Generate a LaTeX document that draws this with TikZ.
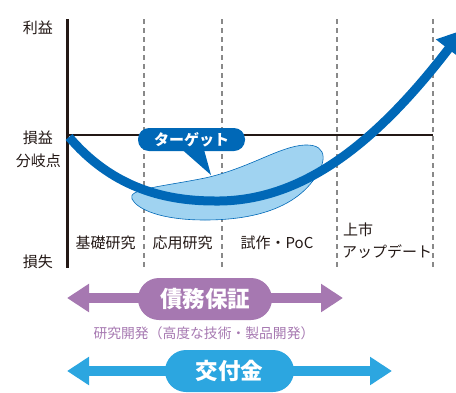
\documentclass[tikz,border=0pt]{standalone}
\usepackage{fontspec}
\setmainfont{Noto Sans CJK JP}
\usetikzlibrary{arrows.meta}
\definecolor{dblue}{HTML}{0068B7}
\definecolor{lblue}{HTML}{A0D3F1}
\definecolor{sky}{HTML}{2CA6E0}
\definecolor{purp}{HTML}{A678B1}
\definecolor{axiscol}{HTML}{231815}
\definecolor{guidecol}{HTML}{898989}
\tikzset{
  lab/.style={text=axiscol, font=\fontsize{15}{17}\selectfont, inner sep=0pt},
  stagelab/.style={text=axiscol, font=\fontsize{15}{17}\selectfont, inner sep=0pt},
  guide/.style={draw=guidecol, line width=1.2pt, dash pattern=on 5pt off 4pt},
  pill/.style={rounded corners=21pt, minimum height=42pt, text=white, inner sep=0pt, font=\fontsize{22.5}{26}\selectfont\bfseries},
  bigarrow/.style={line width=10pt, {Triangle[length=22pt,width=27pt]}-{Triangle[length=22pt,width=27pt]}}
}
\begin{document}
\begin{tikzpicture}[x=1pt,y=-1pt]
\useasboundingbox (0,0) rectangle (456,392);
\clip (0,0) rectangle (456,392);
% guides
\foreach \xx in {144,222,337,433}{
  \draw[guide] (\xx,19) -- (\xx,268);
}
% axes
\coordinate (ytop) at (67.5,19);
\coordinate (ybot) at (67.5,268);
\coordinate (hl) at (67.5,135);
\coordinate (hr) at (433,135);
\draw[axiscol, line width=1.3pt] (hl) -- (hr);
\draw[axiscol, line width=2.2pt] (ytop) -- (ybot);
% axis labels
\node[lab] (rieki) at (38,28) {利益};
\node[lab] (soneki) at (38,138) {損益};
\node[lab] (bunki) at (38.5,161) {分岐点};
\node[lab] (sonshitsu) at (38,262) {損失};
% blob
\draw[dblue, line width=0.6pt, fill=lblue]
  (132,199) .. controls (127,189) and (160,187) .. (205,178)
  .. controls (250,168) and (280,146) .. (305,145)
  .. controls (330,144) and (326,165) .. (312,182)
  .. controls (290,210) and (250,220) .. (205,220)
  .. controls (160,220) and (137,209) .. (132,199) -- cycle;
% curve
\coordinate (cstart) at (69,137);
\coordinate (cmin) at (215,201);
\coordinate (cend) at (463,30);
\draw[dblue, line width=9pt, -{Triangle[length=24pt,width=30pt]}]
  (cstart) .. controls (110,185) and (160,201) .. (cmin)
  .. controls (300,202) and (374,146) .. (cend);
% callout
\fill[dblue] (178,146) -- (211,175) -- (203,146) -- cycle;
\node[fill=dblue, rounded corners=11pt, minimum width=107pt, minimum height=23pt, inner sep=0pt,
  text=white, font=\fontsize{15}{17}\selectfont\bfseries] (target) at (191.5,139.5) {ターゲット};
% stage labels
\node[stagelab] (kiso) at (105.5,243) {基礎研究};
\node[stagelab] (ouyou) at (182.5,243) {応用研究};
\node[stagelab] (shisaku) at (277,243) {試作・PoC};
\node[stagelab, anchor=west] (joushi) at (343,230) {上市};
\node[stagelab, anchor=west] (update) at (342,252) {アップデート};
% purple arrow
\coordinate (pl) at (67,298);
\coordinate (pr) at (343,298);
\draw[purp, bigarrow] (pl) -- (pr);
\node[pill, fill=purp, minimum width=134pt] (saimu) at (205,299) {債務保証};
\node[text=purp, inner sep=0pt, font=\fontsize{13.8}{16}\selectfont] (sub) at (204,333) {研究開発（高度な技術・製品開発）};
% blue arrow
\coordinate (bl) at (67,371);
\coordinate (br) at (392,371);
\draw[sky, bigarrow] (bl) -- (br);
\node[pill, fill=sky, minimum width=129pt] (koufu) at (229.5,371) {交付金};
\end{tikzpicture}
\end{document}
